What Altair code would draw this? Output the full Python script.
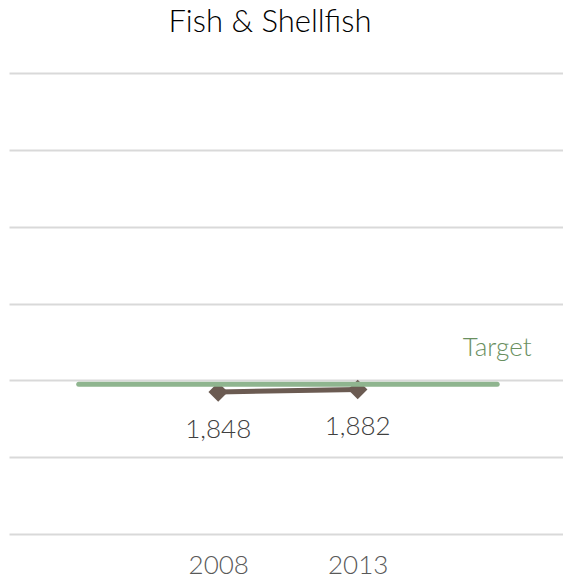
import altair as alt
import pandas as pd

years = [2008, 2013]
values = [1848, 1882]
labels = ["1,848", "1,882"]
target_years = [2003, 2018]
target_values = [1950, 1950]

FONT = "Lato"

data = pd.DataFrame({"year": years, "value": values, "label": labels})
target = pd.DataFrame({"year": target_years, "value": target_values})
target_lbl = pd.DataFrame({"year": [target_years[-1]], "value": [target_values[-1]], "label": ["Target"]})

xs = alt.Scale(domain=[2000.5, 2020.36], nice=False, zero=False)
ys = alt.Scale(domain=[0, 6000], nice=False)

xenc = alt.X("year:Q", scale=xs,
             axis=alt.Axis(values=years, format="d", title=None, grid=False, domain=False,
                           ticks=False, labelFont=FONT, labelFontWeight=300, labelFontSize=26,
                           labelColor="#595959", labelPadding=39, labelBaseline="alphabetic"))
yenc = alt.Y("value:Q", scale=ys,
             axis=alt.Axis(values=[0, 1000, 2000, 3000, 4000, 5000, 6000], labels=False, ticks=False,
                           domain=False, title=None, gridColor="#d9d9d9", gridWidth=2))

line = alt.Chart(data).mark_line(color="#6b5b52", strokeWidth=5).encode(x=xenc, y=yenc)
pts = alt.Chart(data).mark_point(shape="diamond", filled=True, size=380, color="#6b5b52", opacity=1).encode(
    x=alt.X("year:Q", scale=xs), y=alt.Y("value:Q", scale=ys))
tline = alt.Chart(target).mark_line(color="#8fb58f", strokeWidth=5, strokeCap="round").encode(
    x=alt.X("year:Q", scale=xs), y=alt.Y("value:Q", scale=ys))
vlabels = alt.Chart(data).mark_text(font=FONT, fontWeight=300, fontSize=26, color="#404040",
                                    dy=46, baseline="alphabetic").encode(
    x=alt.X("year:Q", scale=xs), y=alt.Y("value:Q", scale=ys), text="label:N")
tlabel = alt.Chart(target_lbl).mark_text(font=FONT, fontWeight=300, fontSize=26, color="#6a8f5f",
                                         dy=-28, baseline="alphabetic").encode(
    x=alt.X("year:Q", scale=xs), y=alt.Y("value:Q", scale=ys), text="label:N")
title = alt.Chart(pd.DataFrame({"t": ["Fish & Shellfish"]})).mark_text(
    font=FONT, fontWeight=300, fontSize=31, color="#000000", baseline="alphabetic", align="center").encode(
    x=alt.value(261), y=alt.value(-41), text="t:N")

chart = alt.layer(line, pts, tline, vlabels, tlabel, title).properties(
    width=554, height=461,
    autosize=alt.AutoSizeParams(type="none"),
    padding={"left": 1, "top": 65, "right": 0, "bottom": 42},
).configure_view(stroke=None)

chart.save("out.html", embed_options={"renderer": "svg", "actions": False})
